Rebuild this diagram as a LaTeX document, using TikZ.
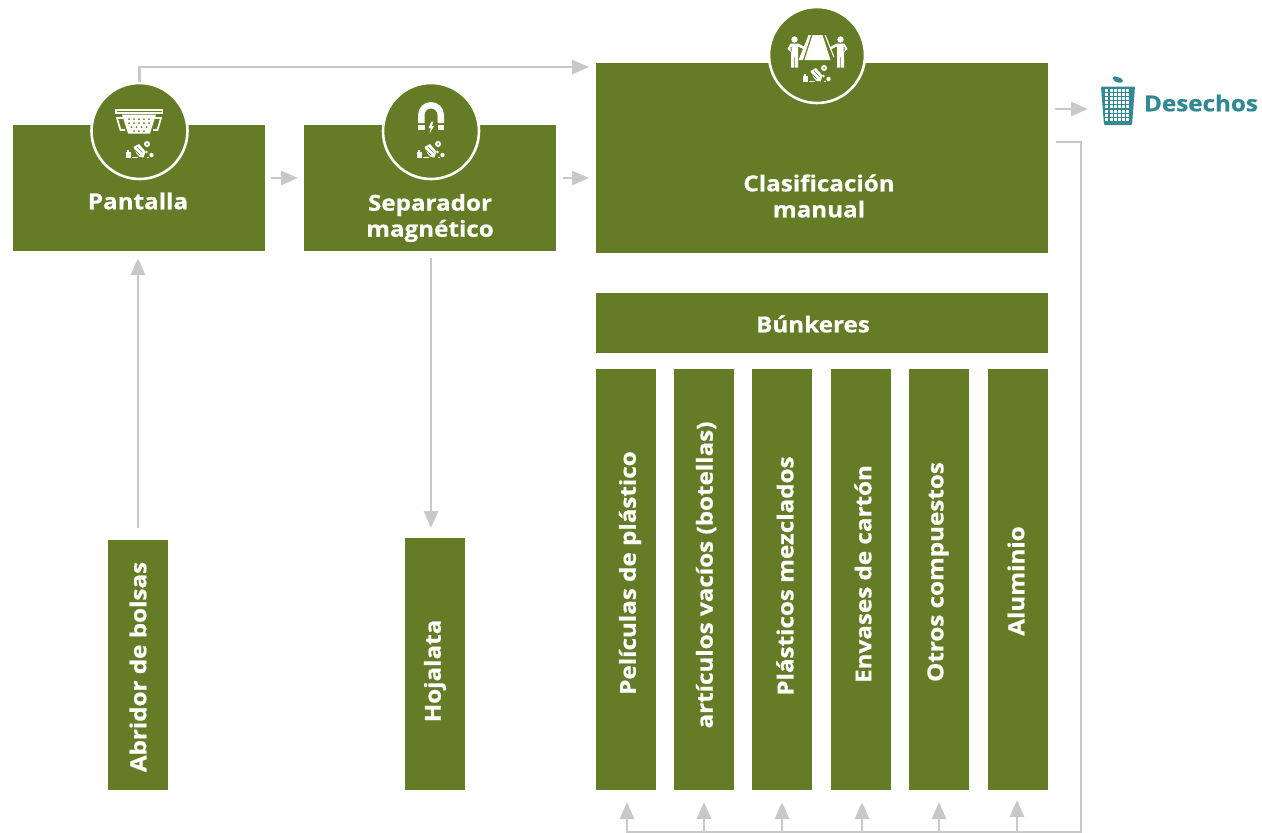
\documentclass[tikz,border=0pt]{standalone}
\usepackage{fontspec}
\setmainfont{Open Sans}[BoldFont={Open Sans Bold},BoldFeatures={FakeStretch=1.1,FakeBold=0.7}]
\usetikzlibrary{arrows.meta,calc}
\definecolor{ogreen}{HTML}{647C25}
\definecolor{ogrey}{HTML}{C8C8C8}
\definecolor{oteal}{HTML}{318A93}
\tikzset{
  x=1pt,y=-1pt,
  block/.style={fill=ogreen,inner sep=0pt,outer sep=0pt,minimum width=#1},
  lbl/.style={text=white,font=\bfseries\fontsize{22}{26}\selectfont,align=center,inner sep=0pt},
  vlbl/.style={lbl,rotate=90},
  conn/.style={draw=ogrey,line width=2.8pt,-{Triangle[length=17pt,width=14pt,fill=ogrey]}},
  plain/.style={draw=ogrey,line width=2.8pt},
  badge/.style={circle,fill=ogreen,draw=white,line width=2.6pt,minimum size=96pt,inner sep=0pt},
  ic/.style={fill=white,draw=none}
}
\newcommand{\pilebit}[2]{%
  \begin{scope}[shift={(#1,#2)}]
    \fill[ic] (-14,2) rectangle (-9.5,8);
    \fill[ic] (-12.6,0) rectangle (-10.9,2);
    \fill[ic] (-8,7) rectangle (-2,8.2);
    \fill[ic] (-6.5,-3) -- (-1,-6) -- (5.5,1.5) -- (3.5,7.5) -- (-2,6.5) -- cycle;
    \draw[ogreen,line width=0.7pt] (-5,0) -- (0,5) (-3,-3) -- (2.5,2.5) (-5.5,3) -- (-1,6.5);
    \fill[ic] (7,-6) circle (3);
    \fill[ogreen] (7,-6) circle (1);
    \fill[ic] (6.5,2) circle (1.4);
    \fill[ic] (11.5,5) circle (2.2);
    \fill[ic] (7,7) rectangle (8.5,8.2);
  \end{scope}}
\begin{document}
\begin{tikzpicture}
\useasboundingbox (0,0) rectangle (1262,833);
% boxes
\node[block=252pt,minimum height=126pt] (pan) at (139,188) {};
\node[block=252pt,minimum height=126pt] (sep) at (430,188) {};
\node[block=452pt,minimum height=190pt] (cla) at (822,158) {};
\node[block=452pt,minimum height=60pt] (bun) at (822,323) {};
\node[block=60pt,minimum height=421pt] (c1) at (626,579.5) {};
\node[block=60pt,minimum height=421pt] (c2) at (704,579.5) {};
\node[block=60pt,minimum height=421pt] (c3) at (782,579.5) {};
\node[block=60pt,minimum height=421pt] (c4) at (861,579.5) {};
\node[block=60pt,minimum height=421pt] (c5) at (939,579.5) {};
\node[block=60pt,minimum height=421pt] (c6) at (1018,579.5) {};
\node[block=60pt,minimum height=250pt] (abr) at (138,665) {};
\node[block=60pt,minimum height=252pt] (hoj) at (435,664) {};
% badges
\node[badge] (bp) at (139.5,131) {};
\node[badge] (bs) at (431,131) {};
\node[badge] (bc) at (817,55) {};
% labels
\node[lbl] (tpan) at (138,201) {Pantalla};
\node[lbl] (tsep) at (430,218) {Separador\\magnético};
\node[lbl] (tcla) at (819,196) {Clasificación\\manual};
\node[lbl] (tbun) at (813,324) {Búnkeres};
\node[vlbl] (t1) at (630,573) {Películas de plástico};
\node[vlbl] (t2) at (706,575) {artículos vacíos (botellas)};
\node[vlbl] (t3) at (785,576) {Plásticos mezclados};
\node[vlbl] (t4) at (863,574) {Envases de cartón};
\node[vlbl] (t5) at (938,572) {Otros compuestos};
\node[vlbl] (t6) at (1016,581) {Aluminio};
\node[vlbl] (t7) at (138,667) {Abridor de bolsas};
\node[vlbl] (t8) at (435,671) {Hojalata};
\node[text=oteal,font=\bfseries\fontsize{22}{26}\selectfont,inner sep=0pt] (des) at (1201,103) {Desechos};
% connectors
\coordinate (a2) at (271,178);
\coordinate (a3) at (298,178);
\coordinate (a4) at (563,178);
\coordinate (a5) at (589,178);
\coordinate (a6) at (1055,109);
\coordinate (a7) at (1088,109);
\coordinate (a8) at (589,67);
\coordinate (b1) at (138,528);
\coordinate (b2) at (138,258);
\coordinate (b3) at (431,258);
\coordinate (b4) at (431,528);
\coordinate (r1) at (1056,142);
\coordinate (r2) at (1081,142);
\coordinate (r3) at (1081,832);
\coordinate (r4) at (627,832);
\draw[conn] (bp.north) |- (a8);
\draw[conn] (a2) -- (a3);
\draw[conn] (a4) -- (a5);
\draw[conn] (a6) -- (a7);
\draw[conn] (b1) -- (b2);
\draw[conn] (b3) -- (b4);
\draw[plain] (r1) -- (r2) -- (r3) -- (r4);
\foreach \xx/\yy in {627/802,704/802,782/802,862/802,939/802,1017/800}{
  \coordinate (u) at (\xx,833);
  \coordinate (v) at (\xx,\yy);
  \draw[conn] (u) -- (v);
}
% colander icon
\begin{scope}[shift={(139,131)}]
  \fill[ic] (-24,-22) rectangle (24,-17);
  \fill[ogreen] (-22.5,-20.4) rectangle (22.5,-19.6);
  \fill[ic] (-17,-16.5) -- (17,-16.5) -- (11,2.5) -- (-11,2.5) -- cycle;
  \draw[white,line width=1.7pt] (-16,-13) -- (-22,-13) -- (-18.5,-1) -- (-14,-1);
  \draw[white,line width=1.7pt] (16,-13) -- (22,-13) -- (18.5,-1) -- (14,-1);
  \foreach \px in {-10,-5,0,5,10} \fill[ogreen] (\px,-12) circle (1);
  \foreach \px in {-10,-5,0,5,10} \fill[ogreen] (\px,-8) circle (1);
  \foreach \px in {-7.5,-2.5,2.5,7.5} \fill[ogreen] (\px,-4) circle (1);
  \foreach \px in {-5,0,5} \fill[ogreen] (\px,0) circle (1);
\end{scope}
\pilebit{140}{150}
% magnet icon
\begin{scope}[shift={(431,131)}]
  \fill[ic] (-13,-8) -- (-13,-16) .. controls (-13,-23.2) and (-7.2,-29) .. (0,-29) .. controls (7.2,-29) and (13,-23.2) .. (13,-16) -- (13,-8) -- (6.5,-8) -- (6.5,-16) .. controls (6.5,-19.6) and (3.6,-22.5) .. (0,-22.5) .. controls (-3.6,-22.5) and (-6.5,-19.6) .. (-6.5,-16) -- (-6.5,-8) -- cycle;
  \fill[ic] (-13,-6) rectangle (-6.5,-1);
  \fill[ic] (6.5,-6) rectangle (13,-1);
  \fill[ic] (0.5,-9.5) -- (-2.5,-3) -- (-0.3,-3) -- (-1.5,2.5) -- (3,-5) -- (0.8,-5) -- (2.5,-9.5) -- cycle;
\end{scope}
\pilebit{431}{150}
% people and belt icon
\begin{scope}[shift={(817.5,55)}]
  \fill[ic] (-5,-20) -- (5,-20) -- (13,5) -- (-13,5) -- cycle;
  \fill[ic] (-9,-20) -- (-6.5,-20) -- (-14.5,5) -- (-19,5) -- cycle;
  \fill[ic] (7,-20) -- (8.2,-20) -- (17,2) -- (15.8,2) -- cycle;
  \foreach \sx in {-1,1}{
    \begin{scope}[xscale=\sx]
      \fill[ic] (-23,-15.5) circle (3.2);
      \fill[ic] (-27,-11.5) -- (-19,-11.5) -- (-12,-7.5) -- (-13,-5.5) -- (-19.5,-8.5) -- (-19.5,12.5) -- (-22.5,12.5) -- (-22.8,0) -- (-23.2,0) -- (-23.5,12.5) -- (-26.5,12.5) -- (-26.5,-3) -- (-30,-6) -- cycle;
      \fill[ogreen] (-27,-8) -- (-26,-8) -- (-26,-3.5) -- (-27,-4.5) -- cycle;
    \end{scope}
  }
\end{scope}
\pilebit{817}{74}
% bin icon
\begin{scope}[shift={(1118,104)}]
  \fill[oteal,rounded corners=1pt] (-17,-17.5) -- (17,-17.5) -- (14,21) -- (-14,21) -- cycle;
  \foreach \gx in {-11.2,-7,...,11.3}
    \foreach \gy in {-14,-9.8,...,18}
      \fill[white] (\gx-1.5,\gy-1.5) rectangle (\gx+1.5,\gy+1.5);
  \fill[oteal,rounded corners=1.5pt] (-5,-28) -- (0,-27) -- (5,-24.5) -- (5,-21.5) -- (-1,-21.5) -- (-5,-24) -- cycle;
\end{scope}
\end{tikzpicture}
\end{document}
